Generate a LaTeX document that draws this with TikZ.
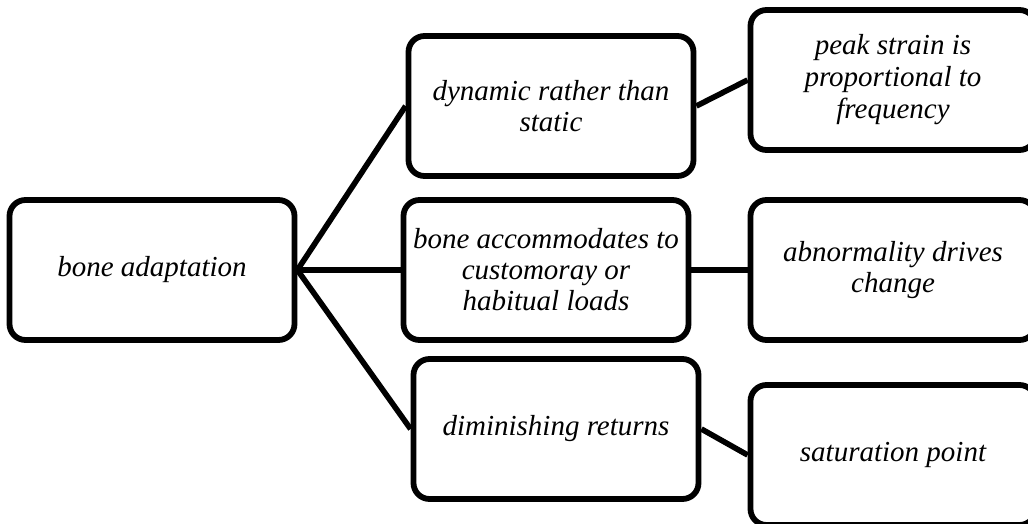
\documentclass[tikz,border=0pt]{standalone}
\usepackage{fontspec}
\setmainfont{LiberationSerif}[Extension=.ttf, UprightFont=*-Regular, ItalicFont=*-Italic]
\begin{document}
\begin{tikzpicture}[x=1pt,y=-1pt]
        \useasboundingbox (0,0) rectangle (1028,524);
        \begin{scope}
            \tikzset{bnode/.style = {
                draw=black,
                line width=5.8pt,
                rounded corners=16pt,
                fill=white,
                align=center,
                minimum width=285pt,
                minimum height=140pt,
                font=\fontsize{29}{31}\selectfont\itshape } }
            \tikzset{bedge/.style = {
                draw=black,
                line width=5.6pt} }
                \node[bnode] (root) at (152,270) {bone adaptation};
                \node[bnode] (m0) at (551,106) {dynamic rather than\\static};
                \node[bnode] (m1) at (546,270) {bone accommodates to\\customoray or\\habitual loads};
                \node[bnode] (m2) at (556,429) {diminishing returns};
                \node[bnode, font=\fontsize{29}{32}\selectfont\itshape] (r0) at (893,80) {peak strain is\\proportional to\\frequency};
                \node[bnode] (r1) at (893,270) {abnormality drives\\change};
                \node[bnode] (r2) at (893,455) {saturation point};
                \foreach \x in {0,1,2}{
                    \path[bedge] (root.east) edge (m\x.west);
                    \path[bedge] (m\x.east) edge (r\x.west);
                }
        \end{scope}
    \end{tikzpicture}
\end{document}
